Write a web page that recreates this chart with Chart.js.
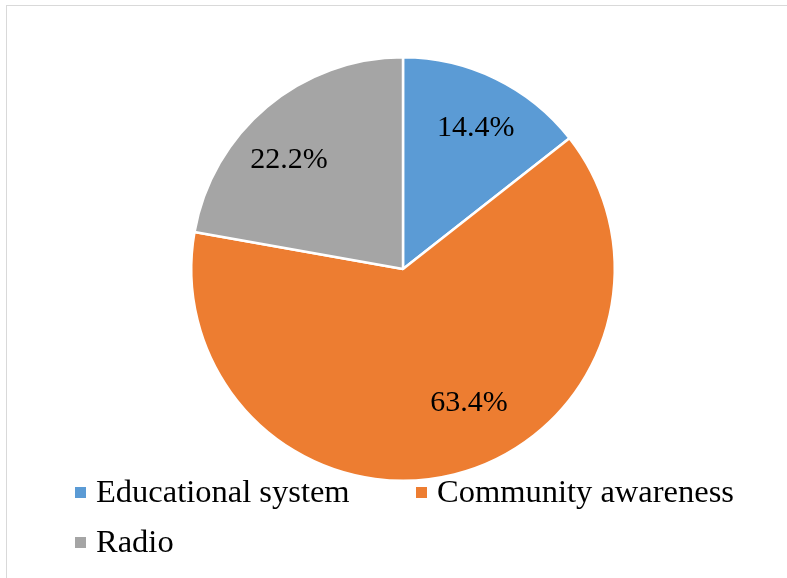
<!DOCTYPE html>
<html>
<head>
<meta charset="utf-8">
<script src="https://cdn.jsdelivr.net/npm/chart.js@4"></script>
<style>
  html, body { margin: 0; padding: 0; background: #fff; }
  body { width: 787px; height: 578px; position: relative; overflow: hidden; }
  #frame { position: absolute; left: 6px; top: 5px; width: 820px; height: 620px; border: 1.5px solid #d9d9d9; }
  #wrap { position: absolute; left: 0; top: 0; width: 787px; height: 578px; }
</style>
</head>
<body>
<div id="frame"></div>
<div id="wrap"><canvas id="pie"></canvas></div>
<script>
// pie data
var labels = ['Educational system', 'Community awareness', 'Radio'];
var values = [14.4, 63.4, 22.2];
var colors = ['#5B9BD5', '#ED7D31', '#A5A5A5'];

const FONT = '"Liberation Serif", "Times New Roman", serif';
// small nudges so labels sit where the original "best fit" put them
const labelNudge = [[6, -4], [29, -14], [-16, 8]];

// percent labels inside slices
const sliceLabels = {
  id: 'sliceLabels',
  afterDatasetsDraw(chart){
    const ctx = chart.ctx;
    const meta = chart.getDatasetMeta(0);
    ctx.save();
    ctx.font = '30px ' + FONT;
    ctx.fillStyle = '#000';
    ctx.textAlign = 'center';
    ctx.textBaseline = 'middle';
    meta.data.forEach((arc, i) => {
      const p = arc.getProps(['x','y','startAngle','endAngle','outerRadius'], true);
      const mid = (p.startAngle + p.endAngle) / 2;
      const r = p.outerRadius * 0.72;
      const n = labelNudge[i];
      ctx.fillText(values[i].toFixed(1) + '%', p.x + Math.cos(mid) * r + n[0], p.y + Math.sin(mid) * r + n[1]);
    });
    ctx.restore();
  }
};

// legend: two columns, wraps to a second row like the original
const bottomLegend = {
  id: 'bottomLegend',
  afterDraw(chart){
    const ctx = chart.ctx;
    ctx.save();
    ctx.font = '32.5px ' + FONT;
    ctx.textBaseline = 'alphabetic';
    ctx.textAlign = 'left';
    labels.forEach((lab, i) => {
      const col = i % 2, row = Math.floor(i / 2);
      const x = 75 + col * 341;
      const y = 502 + row * 50;
      ctx.fillStyle = colors[i];
      ctx.fillRect(x, y - 15, 11, 11);
      ctx.fillStyle = '#000';
      ctx.fillText(lab, x + 21, y);
    });
    ctx.restore();
  }
};

new Chart(document.getElementById('pie'), {
  type: 'pie',
  data: {
    labels: labels,
    datasets: [{
      data: values,
      backgroundColor: colors,
      borderColor: '#fff',
      borderWidth: 2.5
    }]
  },
  options: {
    responsive: true,
    maintainAspectRatio: false,
    animation: false,
    layout: { padding: { top: 56, bottom: 96, left: 190, right: 171 } },
    plugins: {
      legend: { display: false },
      tooltip: { enabled: false }
    }
  },
  plugins: [sliceLabels, bottomLegend]
});
</script>
</body>
</html>
